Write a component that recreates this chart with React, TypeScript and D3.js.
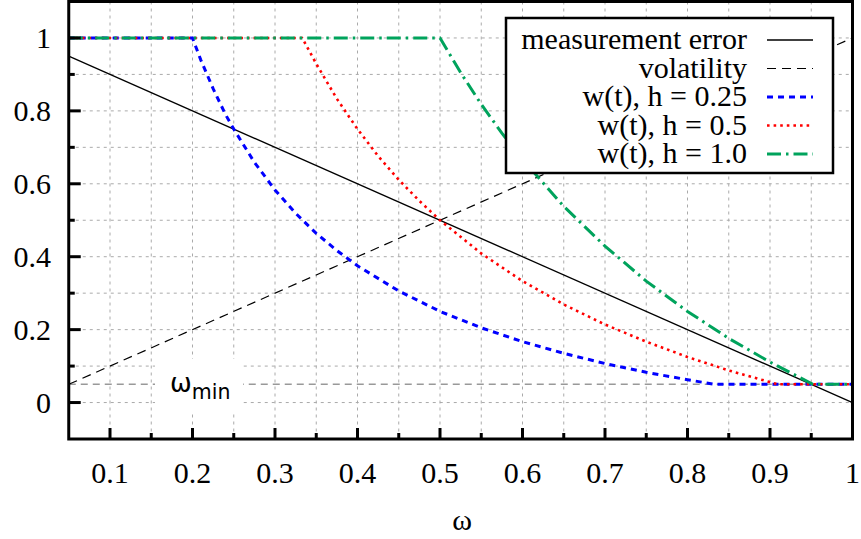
import React from 'react';
import * as d3 from 'd3';

// straight reference lines
const lineX = [0.05, 1.0];
const measurementError = [0.95, 0.0];
const volatility = [0.05, 1.0];
const omegaMin = [0.05, 0.05];

// w(t) curves
const h025X = [0.05, 0.2, 0.21, 0.225, 0.24, 0.25, 0.275, 0.3, 0.325, 0.35, 0.375, 0.4, 0.45, 0.5, 0.55, 0.6, 0.65, 0.7, 0.75, 0.8, 0.833, 1.0];
const h025Y = [1, 1, 0.94, 0.861, 0.79, 0.75, 0.659, 0.583, 0.519, 0.464, 0.417, 0.375, 0.306, 0.25, 0.205, 0.167, 0.135, 0.107, 0.083, 0.0625, 0.05, 0.05];

const h05X = [0.05, 0.333, 0.35, 0.375, 0.4, 0.425, 0.45, 0.475, 0.5, 0.55, 0.6, 0.65, 0.7, 0.75, 0.8, 0.85, 0.9, 0.909, 1.0];
const h05Y = [1, 1, 0.929, 0.833, 0.75, 0.676, 0.611, 0.553, 0.5, 0.409, 0.333, 0.269, 0.214, 0.167, 0.125, 0.088, 0.056, 0.05, 0.05];

const h10X = [0.05, 0.5, 0.525, 0.55, 0.575, 0.6, 0.65, 0.7, 0.75, 0.8, 0.85, 0.9, 0.952, 1.0];
const h10Y = [1, 1, 0.905, 0.818, 0.739, 0.667, 0.538, 0.429, 0.333, 0.25, 0.176, 0.111, 0.05, 0.05];

const xTickLabels = ['0.1', '0.2', '0.3', '0.4', '0.5', '0.6', '0.7', '0.8', '0.9', '1'];
const yTickLabels = ['0', '0.2', '0.4', '0.6', '0.8', '1'];

const legendLabels = ['measurement error', 'volatility', 'w(t), h = 0.25', 'w(t), h = 0.5', 'w(t), h = 1.0'];

const W = 861, H = 539;
const left = 68.75, right = 852.5, top = 1.5, bottom = 439;
const serif = { fontFamily: 'Liberation Serif' };

const x = d3.scaleLinear().domain([0.05, 1]).range([left, right]);
const y = d3.scaleLinear().domain([-0.1, 1.1]).range([bottom, top]);

const line = d3.line<[number, number]>().x(d => x(d[0])).y(d => y(d[1]));
const path = (xs: number[], ys: number[]) => line(xs.map((v, i) => [v, ys[i]]) as [number, number][]) || '';

const styles = [
  { stroke: '#000', width: 1.3, dash: '' },
  { stroke: '#000', width: 1.2, dash: '9 6' },
  { stroke: '#0000ff', width: 3, dash: '6 5' },
  { stroke: '#ff0000', width: 2.6, dash: '2.6 4' },
  { stroke: '#00a35c', width: 3, dash: '14 5 2.5 5' },
];

const App = () => {
  const xGrid = d3.range(0.1, 0.999, 0.05);
  const yGrid = d3.range(0, 1.001, 0.1);
  const xMajor = xTickLabels.map(Number);
  const xMinor = d3.range(0.15, 0.999, 0.1);
  const yMajor = yTickLabels.map(Number);
  const yMinor = d3.range(0.1, 1, 0.2);

  const series = [
    path(lineX, measurementError),
    path(lineX, volatility),
    path(h025X, h025Y),
    path(h05X, h05Y),
    path(h10X, h10Y),
  ];

  const lgX0 = 506, lgY0 = 18, lgW = 327, lgH = 155;
  const rowY = (i: number) => 40 + i * 28.5;

  return (
    <svg width={W} height={H} style={{ position: 'absolute', left: 0, top: 0, background: '#fff' }}>
      <defs>
        <clipPath id="plot">
          <rect x={left} y={top} width={right - left} height={bottom - top} />
        </clipPath>
      </defs>
      <g stroke="#aaa" strokeWidth={1} strokeDasharray="3 4">
        {xGrid.map(v => <line key={'gx' + v} x1={x(v)} x2={x(v)} y1={top} y2={bottom} />)}
        {yGrid.map(v => <line key={'gy' + v} x1={left} x2={right} y1={y(v)} y2={y(v)} />)}
      </g>
      <g clipPath="url(#plot)">
        <path d={path(lineX, omegaMin)} fill="none" stroke="#999" strokeWidth={1.5} strokeDasharray="7 5" />
        {series.map((d, i) => (
          <path key={i} d={d} fill="none" stroke={styles[i].stroke} strokeWidth={styles[i].width}
            strokeDasharray={styles[i].dash || undefined} />
        ))}
      </g>
      <rect x={155} y={359} width={88} height={53} fill="#fff" />
      <text x={170} y={392} style={{ fontFamily: 'DejaVu Sans' }} fontSize={26} fill="#000">
        ω<tspan fontSize={20.5} dy={7}>min</tspan>
      </text>

      <rect x={lgX0} y={lgY0} width={lgW} height={lgH} fill="#fff" stroke="#000" strokeWidth={2.5} />
      {legendLabels.map((t, i) => (
        <g key={t}>
          <text x={747} y={rowY(i) + 9} textAnchor="end" style={serif} fontSize={30}>{t}</text>
          <line x1={767} x2={813} y1={rowY(i)} y2={rowY(i)} stroke={styles[i].stroke} strokeWidth={styles[i].width}
            strokeDasharray={styles[i].dash || undefined} />
        </g>
      ))}

      <rect x={left} y={top} width={right - left} height={bottom - top} fill="none" stroke="#000" strokeWidth={3} />
      <g stroke="#000" strokeWidth={3}>
        {xMajor.map(v => <line key={'xm' + v} x1={x(v)} x2={x(v)} y1={bottom} y2={bottom - 11} />)}
        {xMinor.map(v => <line key={'xn' + v} x1={x(v)} x2={x(v)} y1={bottom} y2={bottom - 6} />)}
        {yMajor.map(v => <line key={'ym' + v} x1={left} x2={left + 12} y1={y(v)} y2={y(v)} />)}
        {yMinor.map(v => <line key={'yn' + v} x1={left} x2={left + 6} y1={y(v)} y2={y(v)} />)}
      </g>
      <g style={serif} fontSize={30} fill="#000">
        {xTickLabels.map(t => (
          <text key={'xl' + t} x={x(Number(t))} y={483} textAnchor="middle">{t}</text>
        ))}
        {yTickLabels.map(t => (
          <text key={'yl' + t} x={51} y={y(Number(t)) + 10} textAnchor="end">{t}</text>
        ))}
        <text x={462} y={530} textAnchor="middle">ω</text>
      </g>
    </svg>
  );
};

export default App;
